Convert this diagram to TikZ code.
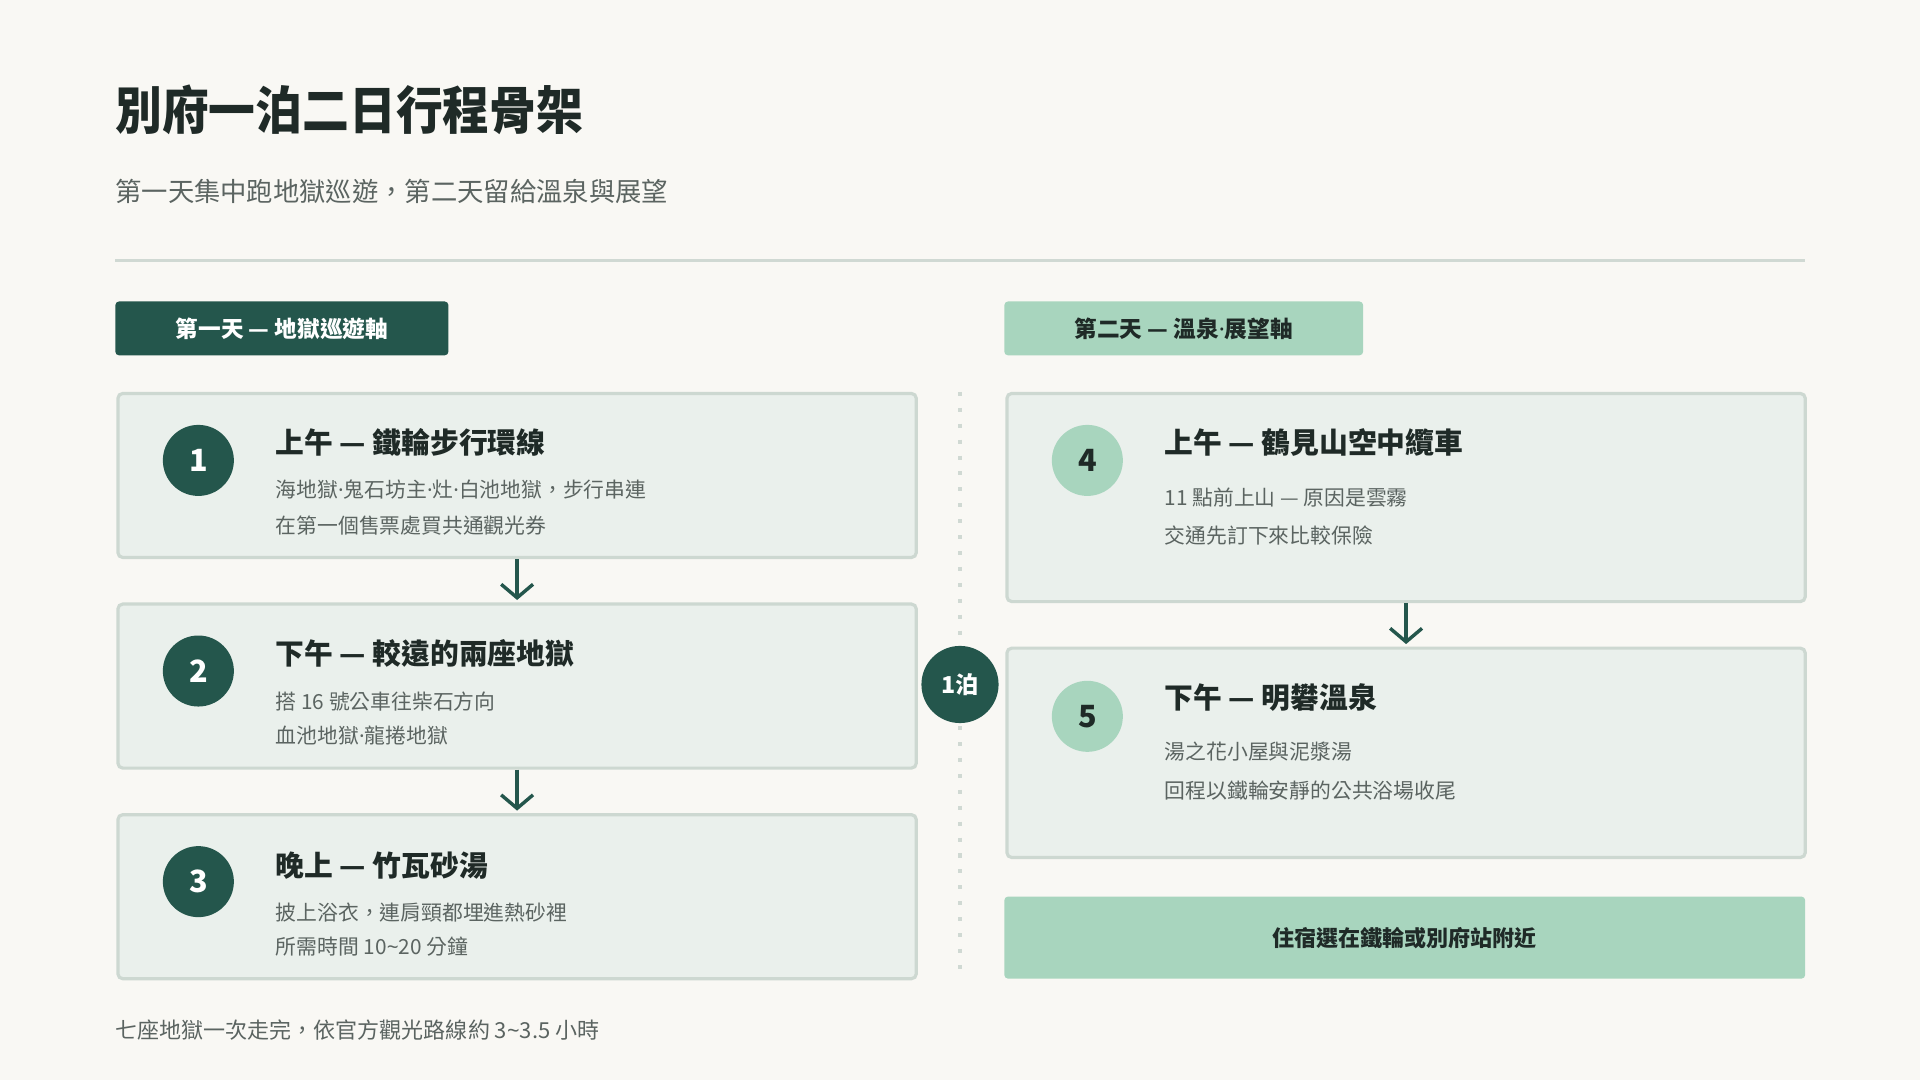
\documentclass[tikz,border=0pt]{standalone}
\usepackage{fontspec}
\setmainfont{Noto Sans CJK TC}
\newfontfamily\titlefont[FakeStretch=0.91]{Noto Sans CJK TC}
\newfontfamily\latinf{Noto Sans}
\newcommand\md{{\latinf ·}}
\newcommand\tld{{\latinf\char"007E}}
\usetikzlibrary{arrows.meta}
\definecolor{bg}{HTML}{F9F8F4}
\definecolor{dkg}{HTML}{24564C}
\definecolor{ltg}{HTML}{A8D5BE}
\definecolor{boxfill}{HTML}{EAF0EC}
\definecolor{boxline}{HTML}{CDD8D1}
\definecolor{ink}{HTML}{1F2A27}
\definecolor{grayink}{HTML}{5B6461}
\definecolor{rule}{HTML}{D0D9D3}
\tikzset{
  card/.style={draw=boxline, fill=boxfill, line width=2.6pt, rounded corners=4pt, anchor=north west, inner sep=0pt},
  tag/.style={rounded corners=3pt, anchor=north west, inner sep=0pt, font=\bfseries\fontsize{18.5}{22}\selectfont},
  numdark/.style={circle, fill=dkg, text=white, minimum size=58pt, inner sep=0pt, font=\bfseries\fontsize{25}{28}\selectfont},
  numlight/.style={circle, fill=ltg, text=ink, minimum size=58pt, inner sep=0pt, font=\bfseries\fontsize{25}{28}\selectfont},
  ttl/.style={anchor=west, inner sep=0pt, text=ink, font=\bfseries\fontsize{23.5}{28}\selectfont},
  desc/.style={anchor=west, inner sep=0pt, text=grayink, font=\fontsize{17}{20}\selectfont},
  flow/.style={draw=dkg, line width=2.8pt, -{Straight Barb[length=11pt,width=26pt,line width=2.8pt]}, shorten >=2pt}
}
\begin{document}
\begin{tikzpicture}[x=1pt,y=-1pt]
\useasboundingbox[fill=bg] (0,0) rectangle (1568,882);
% header
\node[anchor=west, inner sep=0pt, text=ink, font=\titlefont\bfseries\fontsize{42}{48}\selectfont] (title) at (94,90) {別府一泊二日行程骨架};
\node[anchor=west, inner sep=0pt, text=grayink, font=\fontsize{21.5}{26}\selectfont] (sub) at (94,156) {第一天集中跑地獄巡遊，第二天留給溫泉與展望};
\coordinate (rl) at (94,213);
\coordinate (rr) at (1474,213);
\draw[rule, line width=2.6pt] (rl) -- (rr);
% tags
\node[tag, fill=dkg, text=white, minimum width=272pt, minimum height=44pt] (tag1) at (94,246) {第一天 — 地獄巡遊軸};
\node[tag, fill=ltg, text=ink, minimum width=293pt, minimum height=44pt] (tag2) at (820,246) {第二天 — 溫泉\md 展望軸};
% divider
\coordinate (dtop) at (784,320);
\coordinate (dbot) at (784,796);
\draw[rule, line width=2.7pt, dash pattern=on 3.3pt off 9.7pt] (dtop) -- (dbot);
% left cards
\node[card, minimum width=652pt, minimum height=134pt] (b1) at (95,320) {};
\node[card, minimum width=652pt, minimum height=134pt] (b2) at (95,492) {};
\node[card, minimum width=652pt, minimum height=134pt] (b3) at (95,664) {};
\node[numdark] (n1) at (162,376) {1};
\node[numdark] (n2) at (162,548) {2};
\node[numdark] (n3) at (162,720) {3};
\node[ttl] (t1) at (225,361) {上午 — 鐵輪步行環線};
\node[desc] (d1a) at (225,400) {海地獄\md 鬼石坊主\md 灶\md 白池地獄，步行串連};
\node[desc] (d1b) at (225,429) {在第一個售票處買共通觀光券};
\node[ttl] (t2) at (225,534) {下午 — 較遠的兩座地獄};
\node[desc] (d2a) at (225,573) {搭 16 號公車往柴石方向};
\node[desc] (d2b) at (225,601) {血池地獄\md 龍捲地獄};
\node[ttl] (t3) at (225,707) {晚上 — 竹瓦砂湯};
\node[desc] (d3a) at (225,745) {披上浴衣，連肩頸都埋進熱砂裡};
\node[desc] (d3b) at (225,773) {所需時間 10\tld 20 分鐘};
\draw[flow] (b1.south) -- (b2.north);
\draw[flow] (b2.south) -- (b3.north);
% right cards
\node[card, minimum width=652pt, minimum height=170pt] (b4) at (821,320) {};
\node[card, minimum width=652pt, minimum height=171pt] (b5) at (821,528) {};
\node[numlight] (n4) at (888,376) {4};
\node[numlight] (n5) at (888,585) {5};
\node[ttl] (t4) at (951,361) {上午 — 鶴見山空中纜車};
\node[desc] (d4a) at (951,406) {11 點前上山 — 原因是雲霧};
\node[desc] (d4b) at (951,437) {交通先訂下來比較保險};
\node[ttl] (t5) at (951,570) {下午 — 明礬溫泉};
\node[desc] (d5a) at (951,614) {湯之花小屋與泥漿湯};
\node[desc] (d5b) at (951,646) {回程以鐵輪安靜的公共浴場收尾};
\draw[flow] (b4.south) -- (b5.north);
\node[anchor=north west, fill=ltg, rounded corners=3pt, minimum width=654pt, minimum height=67pt, inner sep=0pt, text=ink, font=\bfseries\fontsize{18}{22}\selectfont] (stay) at (820,732) {住宿選在鐵輪或別府站附近};
% night marker
\node[circle, fill=dkg, text=white, minimum size=63pt, inner sep=0pt, font=\bfseries\fontsize{19}{22}\selectfont] (night) at (784,559) {1泊};
% footer
\node[anchor=west, inner sep=0pt, text=grayink, font=\fontsize{18}{22}\selectfont] (foot) at (94,841) {七座地獄一次走完，依官方觀光路線約 3\tld 3.5 小時};
\end{tikzpicture}
\end{document}
